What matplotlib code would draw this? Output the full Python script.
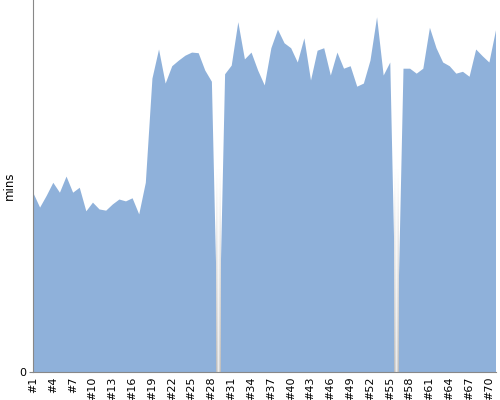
import matplotlib
matplotlib.use("Agg")
import matplotlib.pyplot as plt
import numpy as np

labels = [f"#{i}" for i in range(1, 72)]
values = [28.9, 26.6, 28.5, 30.6, 29.0, 31.6, 29.0, 29.8, 26.0, 27.4,
          26.3, 26.1, 27.1, 27.9, 27.6, 28.1, 25.5, 30.6, 47.4, 52.1,
          46.6, 49.4, 50.3, 51.1, 51.6, 51.5, 48.7, 46.9, 0.0, 48.1,
          49.5, 56.5, 50.5, 51.6, 48.7, 46.3, 52.3, 55.3, 53.1, 52.3,
          50.0, 53.9, 47.1, 51.9, 52.3, 47.9, 51.6, 49.0, 49.4, 46.1,
          46.6, 50.3, 57.3, 47.9, 50.0, 0.0, 49.0, 49.0, 48.2, 49.0,
          55.6, 52.3, 50.0, 49.4, 48.2, 48.5, 47.7, 52.1, 51.0, 50.0,
          55.2]
ymax = 60

x = np.arange(1, len(values) + 1)
fig = plt.figure(figsize=(5, 4), dpi=100)
ax = fig.add_axes([0.066, 0.07, 0.925, 0.93])
ax.fill_between(x, 0, values, color="#8fb1da", lw=0, zorder=2)

# missing-data stripes
h = 60
grad = np.ones((h, 7, 4))
t = np.linspace(0, 1, h)[:, None]  # 0 bottom -> 1 top
prof = np.array([0.78, 0.84, 0.92, 1.0, 0.92, 0.84, 0.78])[None, :]
g = 1 - (1 - prof) * (1 - t) - 0.05 * (1 - t)
g = np.clip(g, 0, 1)
grad[..., 0] = g
grad[..., 1] = g
grad[..., 2] = g
grad[..., 3] = 1.0
for i, v in enumerate(values):
    if v == 0:
        ax.imshow(grad, extent=[i + 1 - 0.32, i + 1 + 0.32, 0, 33], origin="lower",
                  aspect="auto", zorder=3, interpolation="bilinear")

ax.set_xlim(1, len(values))
ax.set_ylim(0, ymax)
ax.set_xticks(x[::3])
ax.set_xticklabels(labels[::3], rotation=90, fontsize=8)
ax.set_yticks([0])
ax.set_yticklabels(["0"], fontsize=8)
ax.tick_params(axis="x", length=0, pad=3)
ax.tick_params(axis="y", length=3, color="#888888", pad=2)
for s in ["top", "right"]:
    ax.spines[s].set_visible(False)
for s in ["left", "bottom"]:
    ax.spines[s].set_color("#888888")
    ax.spines[s].set_zorder(5)
ax.set_ylabel("mins", fontsize=8.5)
ax.yaxis.set_label_coords(-0.037, 0.5)
fig.savefig("out.png", dpi=100)
